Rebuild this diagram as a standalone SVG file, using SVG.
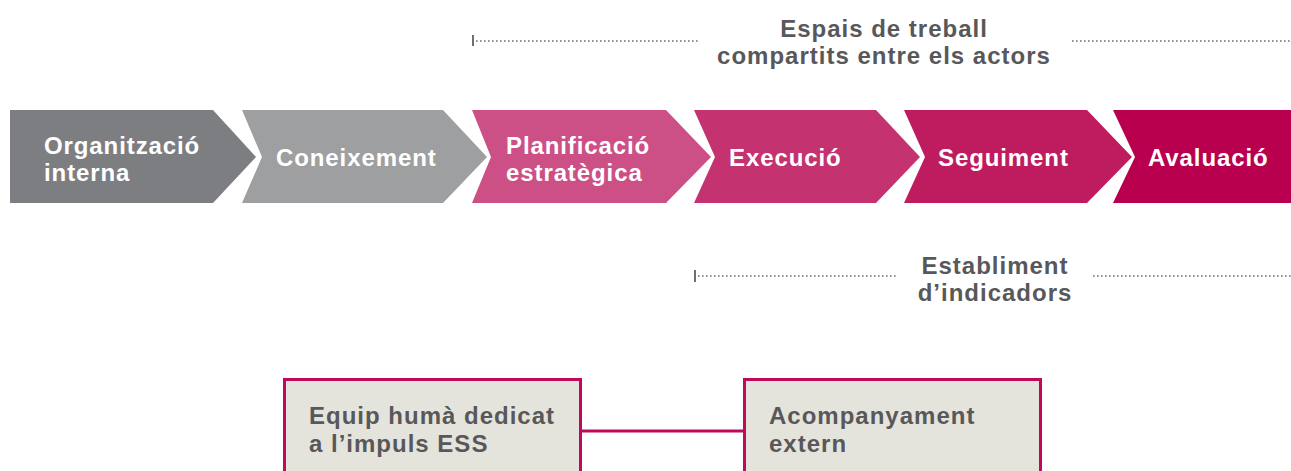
<svg xmlns="http://www.w3.org/2000/svg" width="1291" height="471" viewBox="0 0 1291 471">
<style>
.ct{font-family:"Liberation Sans",Arial,sans-serif;font-weight:bold;font-size:24px;fill:#ffffff;letter-spacing:0.9px}
.lb{font-family:"Liberation Sans",Arial,sans-serif;font-weight:bold;font-size:24px;fill:#58585a;letter-spacing:1px}
.dot{stroke:#6f6f71;stroke-width:1.6;stroke-dasharray:1.6 2.4;fill:none}
.tick{stroke:#6f6f71;stroke-width:2;fill:none}
.box{fill:#e5e4dc;stroke:#c0095a;stroke-width:3}
.bt{font-family:"Liberation Sans",Arial,sans-serif;font-weight:bold;font-size:24px;fill:#58585a;letter-spacing:1px}
</style>
<rect width="1291" height="471" fill="#ffffff"/>
<g id="n1">
<polygon points="10,110 213,110 256,157 213,203 10,203" fill="#7d7e82"/>
<text class="ct" x="44" y="154">Organització</text>
<text class="ct" x="44" y="181">interna</text>
</g>
<g id="n2">
<polygon points="242,110 443,110 487,157 443,203 242,203 262,157" fill="#9e9fa1"/>
<text class="ct" x="276" y="166">Coneixement</text>
</g>
<g id="n3">
<polygon points="472,110 666,110 711,157 666,203 472,203 491,157" fill="#cc4f86"/>
<text class="ct" x="506" y="154">Planificació</text>
<text class="ct" x="506" y="181">estratègica</text>
</g>
<g id="n4">
<polygon points="694,110 876,110 920,157 876,203 694,203 715,157" fill="#c4336f"/>
<text class="ct" x="729" y="166">Execució</text>
</g>
<g id="n5">
<polygon points="904,110 1087,110 1132,157 1087,203 904,203 925,157" fill="#be1c5e"/>
<text class="ct" x="938" y="166">Seguiment</text>
</g>
<g id="n6">
<polygon points="1113,110 1291,110 1291,203 1113,203 1135,157" fill="#b8004f"/>
<text class="ct" x="1148" y="166">Avaluació</text>
</g>
<g id="range-top">
<line class="tick" x1="473" y1="35" x2="473" y2="46"/>
<line class="dot" x1="476" y1="41" x2="698" y2="41"/>
<line class="dot" x1="1072" y1="41" x2="1291" y2="41"/>
<text class="lb" x="884" y="37" text-anchor="middle">Espais de treball</text>
<text class="lb" x="884" y="64" text-anchor="middle">compartits entre els actors</text>
</g>
<g id="range-bottom">
<line class="tick" x1="695" y1="270" x2="695" y2="282"/>
<line class="dot" x1="698" y1="276" x2="898" y2="276"/>
<line class="dot" x1="1093" y1="276" x2="1291" y2="276"/>
<text class="lb" x="995" y="274" text-anchor="middle">Establiment</text>
<text class="lb" x="995" y="301" text-anchor="middle">d’indicadors</text>
</g>
<g id="connectors">
<line x1="581" y1="431" x2="744" y2="431" stroke="#c0095a" stroke-width="3"/>
</g>
<g id="b1">
<rect class="box" x="284.5" y="379.5" width="296" height="100"/>
<text class="bt" x="309" y="424">Equip humà dedicat</text>
<text class="bt" x="309" y="452">a l’impuls ESS</text>
</g>
<g id="b2">
<rect class="box" x="744.5" y="379.5" width="296" height="100"/>
<text class="bt" x="769" y="424">Acompanyament</text>
<text class="bt" x="769" y="452">extern</text>
</g>
</svg>
